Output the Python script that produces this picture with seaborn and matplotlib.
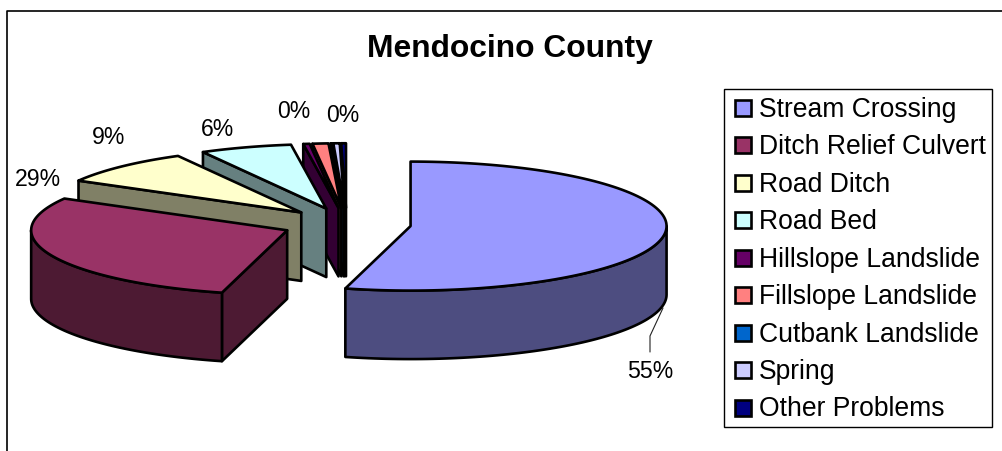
"""Mendocino County: exploded 3-D style pie, drawn as polygons from the shares."""
import numpy as np
import matplotlib
matplotlib.use("Agg")
import matplotlib.pyplot as plt
from matplotlib.legend_handler import HandlerPatch
from matplotlib.patches import Patch, Polygon, Rectangle
import seaborn as sns

# ── Data ───────────────────────────────────────────────────────────────────────
categories = ["Stream Crossing", "Ditch Relief Culvert", "Road Ditch", "Road Bed",
              "Hillslope Landslide", "Fillslope Landslide", "Cutbank Landslide",
              "Spring", "Other Problems"]
shares = [54.1, 29.1, 8.8, 5.8, 0.4, 1.0, 0.1, 0.4, 0.3]
hex_colors = ["#9999FF", "#993366", "#FFFFCC", "#CCFFFF", "#660066",
              "#FF8080", "#0066CC", "#CCCCFF", "#000080"]
pct_labels = ["55%", "29%", "9%", "6%", "0%", "0%"]

# ── Style ──────────────────────────────────────────────────────────────────────
sns.set_theme(style="white")
plt.rcParams["font.family"] = ["Liberation Sans", "DejaVu Sans"]
palette = sns.color_palette(hex_colors)

# pie geometry, in image pixels
CX, CY = 346.6, 224.0
RX, RY = 256.0, 64.5
DEPTH = 68.5
EXPLODE = 64.5
LW = 1.9
ROW_NUDGE = 1.4  # legend rows sit a little lower than matplotlib centres them (pt)


def rim(center, angles):
    """Points on the ellipse; angles run clockwise from 12 o'clock."""
    return np.column_stack([center[0] + RX * np.sin(angles),
                            center[1] - RY * np.cos(angles)])


def draw_slice(ax, a0, a1, color):
    mid = (a0 + a1) / 2
    center = (CX + EXPLODE * np.sin(mid), CY - EXPLODE * RY / RX * np.cos(mid))
    dark = tuple(c / 2 for c in color)
    down = np.array([0, DEPTH])
    kw = dict(edgecolor="black", linewidth=LW, joinstyle="round")

    # flat cut faces that look towards the viewer
    for a, seen in ((a0, np.sin(a0) < 0), (a1, np.sin(a1) > 0)):
        if seen:
            tip = rim(center, np.array([a]))[0]
            ax.add_patch(Polygon([center, tip, tip + down, np.array(center) + down],
                                 facecolor=dark, **kw))

    # outer wall, only the part on the near half of the ellipse
    lo, hi = max(a0, np.pi / 2), min(a1, 3 * np.pi / 2)
    if hi > lo:
        edge = rim(center, np.linspace(lo, hi, 80))
        ax.add_patch(Polygon(np.vstack([edge, edge[::-1] + down]), facecolor=dark, **kw))

    # top face
    arc = rim(center, np.linspace(a0, a1, 120))
    ax.add_patch(Polygon(np.vstack([[center], arc]), facecolor=color, **kw))


def square_swatch(legend, orig_handle, xdescent, ydescent, width, height, fontsize):
    # 16 px square pushed to the right of the handle box
    side = 16 * 72 / 100
    return Rectangle((width - side - xdescent, (height - side) / 2 - ydescent - ROW_NUDGE),
                     side, side)


# ── Figure ─────────────────────────────────────────────────────────────────────
fig = plt.figure(figsize=(10.02, 4.51), dpi=100)
ax = fig.add_axes([0, 0, 1, 1])
ax.set_xlim(0, 1002)
ax.set_ylim(451, 0)
ax.axis("off")

# chart frame, cut off at the right and bottom of the image
ax.plot([7, 7, 1002], [451, 10.5, 10.5], color="black", lw=1.2)

edges = np.radians(np.concatenate([[0], np.cumsum(shares)]) / np.sum(shares) * 360)
order = list(range(1, len(shares)))[::-1] + [0]
for i in order:
    draw_slice(ax, edges[i], edges[i + 1], palette[i])

ax.text(510, 49, "Mendocino County", ha="center", va="center",
        fontsize=22.9, fontweight="bold", color="black")

label_xy = [(650, 372), (38, 180), (109, 137), (218, 129), (294, 112), (343, 115)]
for text, (x, y) in zip(pct_labels, label_xy):
    ax.text(x, y, text, ha="center", va="center", fontsize=16.6, color="black")

# leader line for the biggest slice
ax.plot([663, 650, 650], [308, 336, 352], color="#222222", lw=0.8)

handles = [Patch(facecolor=c, edgecolor="black", linewidth=LW) for c in palette]
leg = ax.legend(handles, categories, loc="upper left", bbox_to_anchor=(724, 89),
                bbox_transform=ax.transData, borderaxespad=0, fontsize=19.1,
                labelcolor="black", frameon=True, fancybox=False, framealpha=1,
                edgecolor="black", labelspacing=0.432, handlelength=0.784,
                handletextpad=0.3, borderpad=0.24,
                handler_map={Patch: HandlerPatch(patch_func=square_swatch)})
for t in leg.get_texts():
    t.set_y(t.get_position()[1] - ROW_NUDGE)

fig.savefig("out.png", dpi=100, facecolor="white")
